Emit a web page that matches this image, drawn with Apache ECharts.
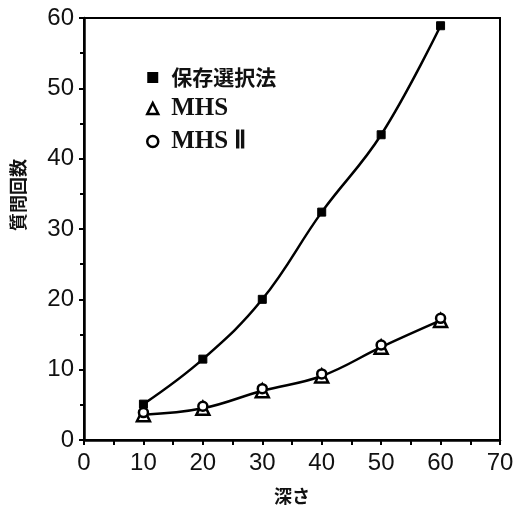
<!DOCTYPE html>
<html>
<head>
<meta charset="utf-8">
<script src="https://cdn.jsdelivr.net/npm/echarts@6/dist/echarts.min.js"></script>
<style>html,body{margin:0;padding:0;background:#fff}#c{width:527px;height:510px}</style>
</head>
<body>
<div id="c"></div>
<script>
var depths = [10, 20, 30, 40, 50, 60];
var seriesNames = ['保存選択法', 'MHS', 'MHS Ⅱ'];
var hozon = [5.1, 11.5, 20.0, 32.4, 43.4, 58.9];
var mhs = [3.6, 4.5, 7.0, 9.1, 13.2, 17.0];
var mhs2 = [3.9, 4.8, 7.3, 9.4, 13.5, 17.3];
var xTicks = [0, 10, 20, 30, 40, 50, 60, 70];
var yTicks = [0, 10, 20, 30, 40, 50, 60];
var xName = '深さ';
var yName = '質問回数';

function pairs(vals) { return depths.map(function (d, i) { return [d, vals[i]]; }); }

var chart = echarts.init(document.getElementById('c'), null, {renderer: 'canvas'});
var tickFont = {fontFamily: 'Liberation Sans, Arial, sans-serif', fontSize: 24, color: '#111'};
chart.setOption({
  animation: false,
  backgroundColor: '#fff',
  grid: {left: 84, top: 18, right: 27, bottom: 64, show: true, borderColor: '#000', borderWidth: 2},
  xAxis: {
    type: 'value', min: xTicks[0], max: xTicks[xTicks.length - 1], interval: 10,
    axisLine: {show: true, lineStyle: {color: '#000', width: 2.5}},
    axisTick: {show: true, inside: false, length: 5, lineStyle: {color: '#000', width: 2}},
    minorTick: {show: true, splitNumber: 2, length: 5, lineStyle: {color: '#000', width: 2}},
    splitLine: {show: false},
    axisLabel: Object.assign({margin: 11}, tickFont),
    name: xName, nameLocation: 'middle', nameGap: 47,
    nameTextStyle: {fontFamily: 'Noto Sans CJK JP', fontWeight: 'bold', fontSize: 18, color: '#111'}
  },
  yAxis: {
    type: 'value', min: yTicks[0], max: yTicks[yTicks.length - 1], interval: 10,
    axisLine: {show: true, lineStyle: {color: '#000', width: 2.5}},
    axisTick: {show: true, inside: false, length: 5, lineStyle: {color: '#000', width: 2}},
    minorTick: {show: true, splitNumber: 2, length: 4, lineStyle: {color: '#000', width: 2}},
    splitLine: {show: false},
    axisLabel: Object.assign({margin: 10}, tickFont),
    name: yName, nameLocation: 'middle', nameGap: 57, nameRotate: 90,
    nameTextStyle: {fontFamily: 'Noto Sans CJK JP', fontWeight: 'bold', fontSize: 18, color: '#111', padding: [0, 0, 0, 68]}
  },
  legend: {
    orient: 'vertical', left: 141, top: 62, itemGap: 8, itemWidth: 11, itemHeight: 11,
    formatter: function (n) { return /^[\x00-\x7F]/.test(n) ? '{lat|' + n + '}' : '{cjk|' + n + '}'; },
    textStyle: {
      color: '#111', padding: [0, 0, 0, 8],
      rich: {
        lat: {fontFamily: 'Liberation Serif, serif', fontWeight: 'bold', fontSize: 25, color: '#111'},
        cjk: {fontFamily: 'Noto Sans CJK JP', fontWeight: 'bold', fontSize: 21, color: '#111'}
      }
    },
    data: [
      {name: seriesNames[0], icon: 'rect', itemStyle: {color: '#000', borderWidth: 0}},
      {name: seriesNames[1], icon: 'triangle', itemStyle: {color: '#fff', borderColor: '#000', borderWidth: 2.5}},
      {name: seriesNames[2], icon: 'circle', itemStyle: {color: '#fff', borderColor: '#000', borderWidth: 2.5}}
    ]
  },
  series: [
    {name: seriesNames[0], type: 'line', smooth: 0.4, data: pairs(hozon),
     symbol: 'rect', symbolSize: 8,
     lineStyle: {color: '#000', width: 2.5}, itemStyle: {color: '#000', borderColor: '#000'}, z: 3},
    {name: seriesNames[1], type: 'line', smooth: 0.4, data: pairs(mhs),
     symbol: 'triangle', symbolSize: 13,
     lineStyle: {color: '#000', width: 2.5}, itemStyle: {color: '#fff', borderColor: '#000', borderWidth: 2.5}, z: 4},
    {name: seriesNames[2], type: 'line', smooth: 0.4, data: pairs(mhs2),
     symbol: 'circle', symbolSize: 9,
     lineStyle: {color: '#000', width: 0}, itemStyle: {color: '#fff', borderColor: '#000', borderWidth: 2.5}, z: 5}
  ]
});
</script>
</body>
</html>
